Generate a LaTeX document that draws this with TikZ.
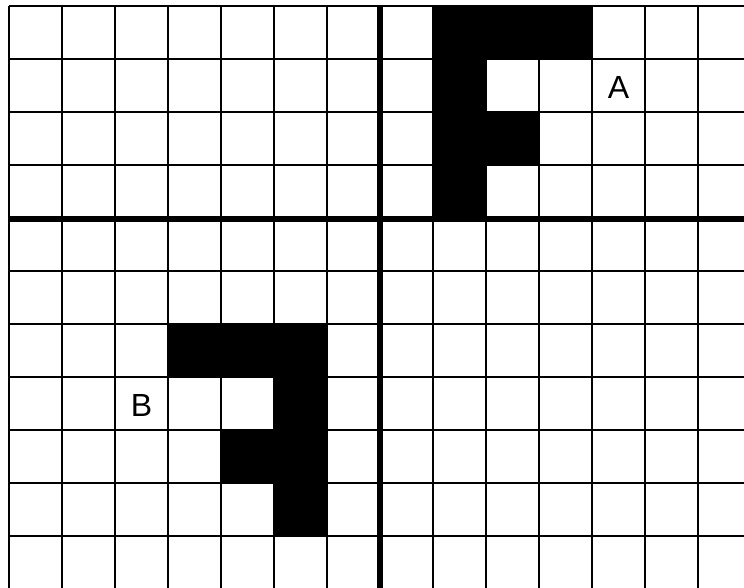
\documentclass[tikz,border=0pt]{standalone}
\usepackage{fontspec}
\setmainfont{Liberation Sans}
\begin{document}
\begin{tikzpicture}[x=0.75pt,y=-0.75pt,
  gridline/.style={line width=1.5pt,black},
  axisline/.style={line width=4.5pt,black},
  cellfill/.style={fill=black},
  lbl/.style={font=\fontsize{24}{24}\selectfont,inner sep=0pt}]
\useasboundingbox (0,0) rectangle (744,588);
\fill[white] (0,0) rectangle (744,588);
% grid
\foreach \i in {0,...,13} \draw[gridline] (9+53*\i,5.7) -- (9+53*\i,588);
\foreach \j in {0,...,10} \draw[gridline] (9,5.7+53*\j) -- (744,5.7+53*\j);
% axes
\draw[axisline] (380,5) -- (380,588);
\draw[axisline] (9,219) -- (744,219);
% figure A
\fill[cellfill] (433,5.7) rectangle (592,58.7);
\fill[cellfill] (433,58.7) rectangle (486,217.7);
\fill[cellfill] (486,111.7) rectangle (539,164.7);
% figure B
\fill[cellfill] (168,323.7) rectangle (327,376.7);
\fill[cellfill] (274,376.7) rectangle (327,535.7);
\fill[cellfill] (221,429.7) rectangle (274,482.7);
% labels
\node[lbl] (A) at (618.5,87) {A};
\node[lbl] (B) at (141.5,405) {B};
\end{tikzpicture}
\end{document}
